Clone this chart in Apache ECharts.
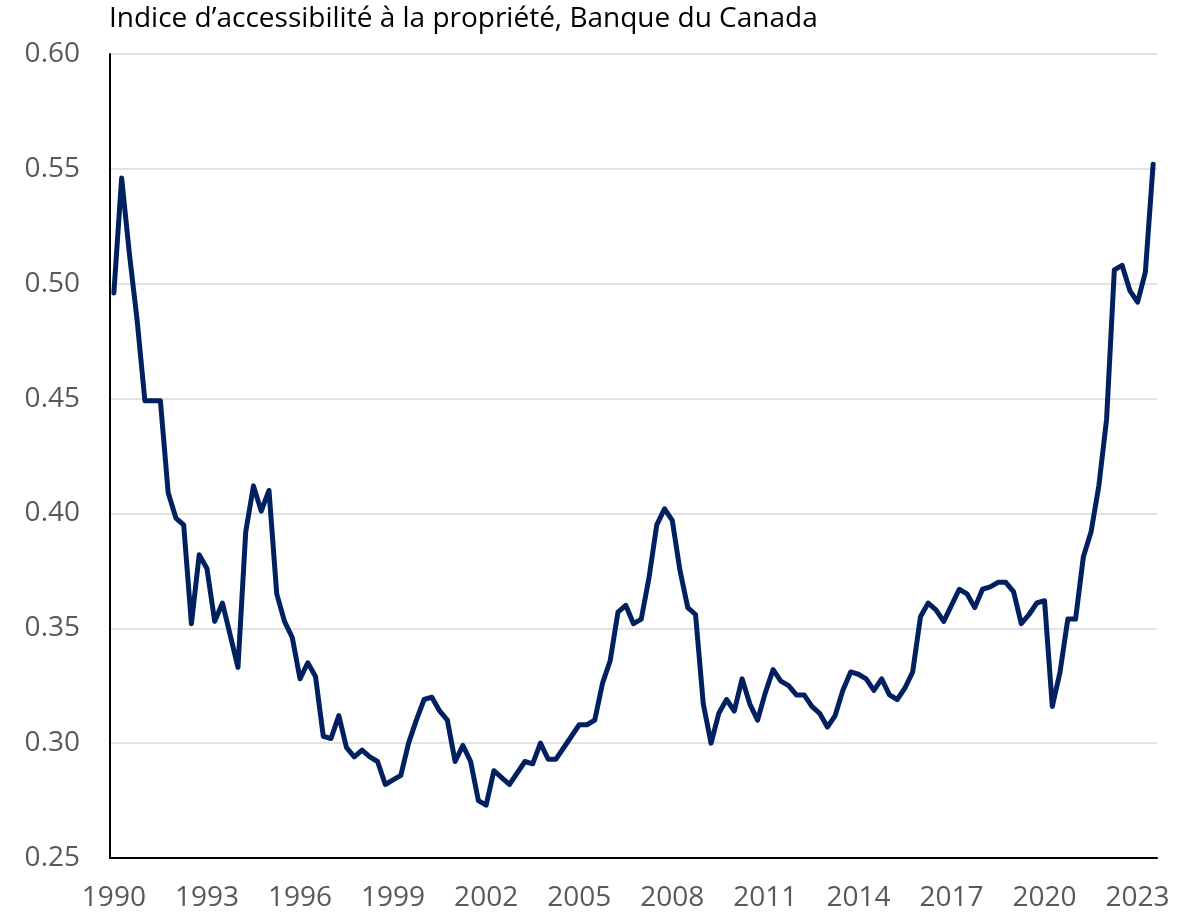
<!DOCTYPE html>
<html lang="fr">
  <head>
    <meta charset="UTF-8" />
    <meta name="viewport" content="width=device-width, initial-scale=1.0" />
    <title>Indice d’accessibilité à la propriété</title>
    <script src="https://cdn.jsdelivr.net/npm/echarts@6/dist/echarts.min.js"></script>
    <style>
      html, body { margin: 0; padding: 0; background: #fff; }
      #main { width: 1186px; height: 917px; }
    </style>
  </head>
  <body>
    <div id="main"></div>
    <script>
      // trimestres 1990T1 - 2023T3
      var firstYear = 1990;
      var lastYear = 2023;
      var lastQuarter = 3;

      // indice d'accessibilité, une valeur par trimestre
      var indexValues = [
        0.496, 0.546, 0.513, 0.484, 0.449, 0.449, 0.449, 0.409, 0.398, 0.395,
        0.352, 0.382, 0.376, 0.353, 0.361, 0.347, 0.333, 0.392, 0.412, 0.401,
        0.410, 0.365, 0.353, 0.346, 0.328, 0.335, 0.329, 0.303, 0.302, 0.312,
        0.298, 0.294, 0.297, 0.294, 0.292, 0.282, 0.284, 0.286, 0.300, 0.310,
        0.319, 0.320, 0.314, 0.310, 0.292, 0.299, 0.292, 0.275, 0.273, 0.288,
        0.285, 0.282, 0.287, 0.292, 0.291, 0.300, 0.293, 0.293, 0.298, 0.303,
        0.308, 0.308, 0.310, 0.326, 0.336, 0.357, 0.360, 0.352, 0.354, 0.372,
        0.395, 0.402, 0.397, 0.375, 0.359, 0.356, 0.317, 0.300, 0.313, 0.319,
        0.314, 0.328, 0.317, 0.310, 0.322, 0.332, 0.327, 0.325, 0.321, 0.321,
        0.316, 0.313, 0.307, 0.312, 0.323, 0.331, 0.330, 0.328, 0.323, 0.328,
        0.321, 0.319, 0.324, 0.331, 0.355, 0.361, 0.358, 0.353, 0.360, 0.367,
        0.365, 0.359, 0.367, 0.368, 0.370, 0.370, 0.366, 0.352, 0.356, 0.361,
        0.362, 0.316, 0.331, 0.354, 0.354, 0.381, 0.392, 0.412, 0.441, 0.506,
        0.508, 0.497, 0.492, 0.505, 0.552
      ];

      var yTicks = { min: 0.25, max: 0.6, step: 0.05 };
      var titleText = 'Indice d’accessibilité à la propriété, Banque du Canada';

      var quarters = [];
      for (var y = firstYear; y <= lastYear; y++) {
        for (var q = 1; q <= 4; q++) {
          if (y === lastYear && q > lastQuarter) break;
          quarters.push(y + 'T' + q);
        }
      }

      var font = '"Open Sans", "Noto Sans", sans-serif';
      var myChart = echarts.init(document.getElementById('main'));

      var option = {
        animation: false,
        title: {
          text: titleText,
          left: 104,
          top: 0,
          textStyle: {
            fontFamily: font,
            fontSize: 28,
            fontWeight: 'normal',
            color: '#000'
          }
        },
        grid: {
          left: 110,
          right: 29,
          top: 54,
          bottom: 59
        },
        xAxis: {
          type: 'category',
          data: quarters,
          boundaryGap: true,
          axisLine: { lineStyle: { color: '#000', width: 2 } },
          axisTick: { show: false },
          axisLabel: {
            interval: 11,
            margin: 26,
            fontFamily: font,
            fontSize: 28,
            color: '#595959',
            formatter: function (v) {
              return v.slice(0, 4);
            }
          },
          splitLine: { show: false }
        },
        yAxis: {
          type: 'value',
          min: yTicks.min,
          max: yTicks.max,
          interval: yTicks.step,
          axisLine: { show: true, lineStyle: { color: '#000', width: 2 } },
          axisTick: { show: false },
          axisLabel: {
            margin: 30,
            fontFamily: font,
            fontSize: 28,
            color: '#595959',
            formatter: function (v) {
              return v.toFixed(2);
            }
          },
          splitLine: { lineStyle: { color: '#d9d9d9', width: 1.5 } }
        },
        series: [
          {
            type: 'line',
            data: indexValues,
            symbol: 'none',
            lineStyle: { color: '#002060', width: 5, join: 'round', cap: 'round' }
          }
        ]
      };

      myChart.setOption(option);
    </script>
  </body>
</html>
